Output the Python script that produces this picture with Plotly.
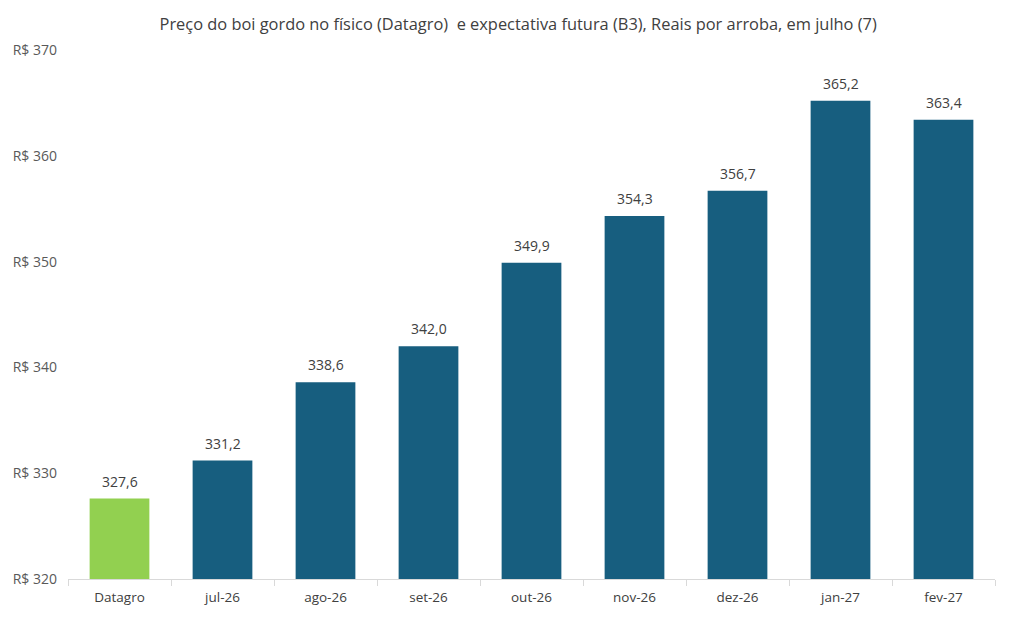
import plotly.graph_objects as go

categories = ["Datagro", "jul-26", "ago-26", "set-26", "out-26", "nov-26", "dez-26", "jan-27", "fev-27"]
values = [327.6, 331.2, 338.6, 342.0, 349.9, 354.3, 356.7, 365.2, 363.4]
bar_colors = ["#92D050"] + ["#175E7F"] * 8
y_ticks = [320, 330, 340, 350, 360, 370]
y_tick_labels = ["R$ 320", "R$ 330", "R$ 340", "R$ 350", "R$ 360", "R$ 370"]

fig = go.Figure(go.Bar(
    x=categories, y=values,
    marker=dict(color=bar_colors, line=dict(width=0)),
    width=0.58,
    showlegend=False,
))

for c, v in zip(categories, values):
    fig.add_annotation(x=c, y=v, text=f"{v:.1f}".replace(".", ","), showarrow=False,
                       yanchor="bottom", yshift=6,
                       font=dict(size=14, color="#404040", family="Open Sans"))

fig.update_layout(
    width=1012, height=631,
    margin=dict(l=68, r=17, t=50, b=52),
    paper_bgcolor="white", plot_bgcolor="white",
    font=dict(family="Open Sans", color="#595959", size=13),
    title=dict(text="Preço do boi gordo no físico (Datagro)  e expectativa futura (B3), Reais por arroba, em julho (7)",
               x=0.512, xanchor="center", y=0.962, yanchor="middle",
               font=dict(size=16.4, color="#404040", family="Open Sans")),
    showlegend=False,
    bargap=0.42,
)
fig.update_yaxes(range=[320, 370], tickvals=y_ticks, ticktext=y_tick_labels,
                 showgrid=False, zeroline=False, showline=False,
                 ticks="", ticklabelstandoff=10, tickfont=dict(size=14, color="#595959"))
fig.update_xaxes(showline=True, linecolor="#D9D9D9", linewidth=1,
                 ticks="outside", tickson="boundaries", ticklen=6, tickcolor="#D9D9D9",
                 ticklabelstandoff=6,
                 showgrid=False, tickfont=dict(size=13.5, color="#404040"))

fig.write_html("out.html")
